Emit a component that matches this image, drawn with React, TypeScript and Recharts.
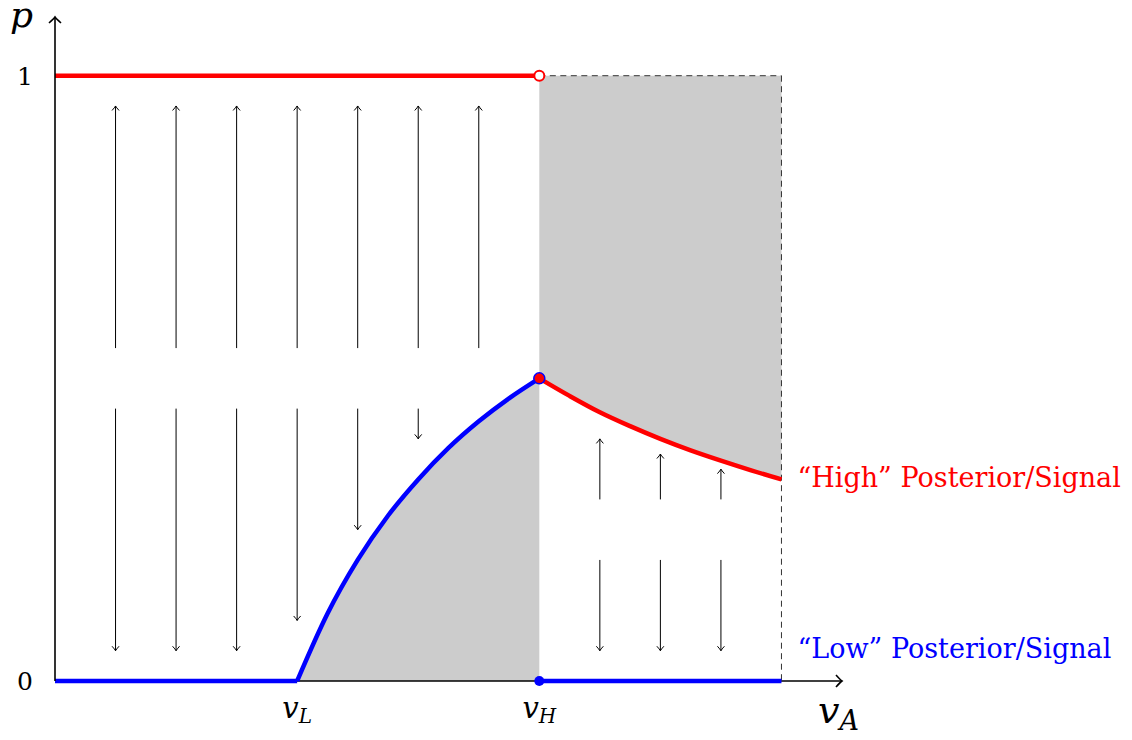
import React from 'react';
import { ComposedChart, XAxis, YAxis, Line, Area, ReferenceLine, ReferenceDot } from 'recharts';

const RED = '#ff0000';
const BLUE = '#0000ff';
const SHADE = '#cccccc';
const SERIF = '"DejaVu Serif", serif';

// x measured in units where v_L = 4, v_H = 8, right edge = 12
const lowCurveX = [4, 4.5, 5, 5.5, 6, 6.5, 7, 7.5, 8];
const lowCurveP = [0, 0.111, 0.2, 0.273, 0.333, 0.385, 0.429, 0.467, 0.5];
const highCurveX = [8, 8.5, 9, 9.5, 10, 10.5, 11, 11.5, 12];
const highCurveP = [0.5, 0.471, 0.444, 0.421, 0.4, 0.381, 0.364, 0.348, 0.333];

// arrows (x position, start p, end p)
const leftUpX = [1, 2, 3, 4, 5, 6, 7];
const leftUpFrom = 0.55;
const leftUpTo = 0.95;
const leftDownX = [1, 2, 3, 4, 5, 6];
const leftDownFrom = 0.45;
const leftDownTo = [0.05, 0.05, 0.05, 0.1, 0.25, 0.4];
const rightX = [9, 10, 11];
const rightUpFrom = 0.3;
const rightUpTo = [0.4, 0.375, 0.35];
const rightDownFrom = 0.2;
const rightDownTo = 0.05;

const xTicks = [4, 8];
const xTickNames = ['L', 'H'];
const yTicks = [0, 1];

const lowCurve = lowCurveX.map((x, i) => ({ x, p: lowCurveP[i] }));
const highBand = highCurveX.map((x, i) => ({ x, p: highCurveP[i], band: [highCurveP[i], 1] }));
const topRed = [{ x: 0, p: 1 }, { x: 8, p: 1 }];
const bottomLeft = [{ x: 0, p: 0 }, { x: 4, p: 0 }];
const bottomRight = [{ x: 8, p: 0 }, { x: 12, p: 0 }];
const xAxisLine = [{ x: 0, p: 0 }, { x: 13, p: 0 }];

const arrowShape = (props: any) => {
  const { x1, y1, x2, y2 } = props;
  const d = y2 > y1 ? 1 : -1;
  const head = `M ${x2 - 3.5} ${y2 - d * 4.5} Q ${x2 - 0.8} ${y2 - d * 1.5} ${x2} ${y2} Q ${x2 + 0.8} ${y2 - d * 1.5} ${x2 + 3.5} ${y2 - d * 4.5}`;
  return (
    <g>
      <line x1={x1} y1={y1} x2={x2} y2={y2} stroke="#000" strokeWidth={1} />
      <path d={head} fill="none" stroke="#000" strokeWidth={1} />
    </g>
  );
};

const XTick = (props: any) => {
  const { x, y, payload } = props;
  const idx = xTicks.indexOf(payload.value);
  return (
    <text x={x} y={y + 37} textAnchor="middle" fill="#000" style={{ fontFamily: SERIF, fontStyle: 'italic', fontSize: 29 }}>
      v<tspan dy={5} style={{ fontSize: 20 }}>{xTickNames[idx]}</tspan>
    </text>
  );
};

const YTick = (props: any) => {
  const { x, y, payload } = props;
  return (
    <text x={x - 22} y={y + 9} textAnchor="end" fill="#000" style={{ fontFamily: SERIF, fontSize: 25 }}>
      {payload.value}
    </text>
  );
};

export default function App() {
  return (
    <div style={{ position: 'absolute', left: 0, top: 0, background: '#fff' }}>
      <ComposedChart width={1132} height={740} margin={{ top: 17, right: 290, bottom: 0, left: 0 }}>
        <XAxis
          type="number"
          dataKey="x"
          domain={[0, 13]}
          ticks={xTicks}
          tick={<XTick />}
          tickLine={false}
          tickSize={0}
          tickMargin={0}
          height={59}
          axisLine={false}
        />
        <YAxis
          type="number"
          domain={[0, 1.097]}
          ticks={yTicks}
          tick={<YTick />}
          tickLine={false}
          tickSize={0}
          tickMargin={0}
          width={55}
          axisLine={{ stroke: '#000', strokeWidth: 1.6 }}
        />

        <Area data={lowCurve} dataKey="p" type="monotone" fill={SHADE} fillOpacity={1} stroke="none" isAnimationActive={false} />
        <Area data={highBand} dataKey="band" type="monotone" fill={SHADE} fillOpacity={1} stroke="none" isAnimationActive={false} />

        <ReferenceLine segment={[{ x: 8, y: 1 }, { x: 12, y: 1 }]} stroke="#333" strokeWidth={1} strokeDasharray="6 4.5" />
        <ReferenceLine segment={[{ x: 12, y: 1 }, { x: 12, y: 0 }]} stroke="#333" strokeWidth={1} strokeDasharray="6 4.5" />

        {leftUpX.map((x) => (
          <ReferenceLine key={`lu${x}`} segment={[{ x, y: leftUpFrom }, { x, y: leftUpTo }]} shape={arrowShape} />
        ))}
        {leftDownX.map((x, i) => (
          <ReferenceLine key={`ld${x}`} segment={[{ x, y: leftDownFrom }, { x, y: leftDownTo[i] }]} shape={arrowShape} />
        ))}
        {rightX.map((x, i) => (
          <ReferenceLine key={`ru${x}`} segment={[{ x, y: rightUpFrom }, { x, y: rightUpTo[i] }]} shape={arrowShape} />
        ))}
        {rightX.map((x) => (
          <ReferenceLine key={`rd${x}`} segment={[{ x, y: rightDownFrom }, { x, y: rightDownTo }]} shape={arrowShape} />
        ))}

        {/* x axis drawn as a series so the blue lines sit on top of it */}
        <Line data={xAxisLine} dataKey="p" type="linear" stroke="#000" strokeWidth={1.6} dot={false} isAnimationActive={false} />
        <Line data={topRed} dataKey="p" type="linear" stroke={RED} strokeWidth={4.5} dot={false} isAnimationActive={false} />
        <Line data={bottomLeft} dataKey="p" type="linear" stroke={BLUE} strokeWidth={4.5} dot={false} isAnimationActive={false} />
        <Line data={bottomRight} dataKey="p" type="linear" stroke={BLUE} strokeWidth={4.5} dot={false} isAnimationActive={false} />
        <Line data={lowCurve} dataKey="p" type="monotone" stroke={BLUE} strokeWidth={4.5} dot={false} isAnimationActive={false} />
        <Line data={highBand} dataKey="p" type="monotone" stroke={RED} strokeWidth={4.5} dot={false} isAnimationActive={false} />

        <ReferenceDot x={8} y={1} r={5} fill="#fff" stroke={RED} strokeWidth={2} />
        <ReferenceDot x={8} y={0} r={5} fill={BLUE} stroke="none" />
        <ReferenceDot x={8} y={0.5} r={5.5} fill={RED} stroke={BLUE} strokeWidth={1.5} />

        {/* axis arrowheads */}
        <ReferenceDot
          x={13}
          y={0}
          shape={(p: any) => (
            <path d={`M ${p.cx - 6} ${p.cy - 6} Q ${p.cx - 1.5} ${p.cy - 1} ${p.cx} ${p.cy} Q ${p.cx - 1.5} ${p.cy + 1} ${p.cx - 6} ${p.cy + 6}`} fill="none" stroke="#000" strokeWidth={1.6} />
          )}
        />
        <ReferenceDot
          x={0}
          y={1.097}
          shape={(p: any) => (
            <path d={`M ${p.cx - 6} ${p.cy + 6} Q ${p.cx - 1} ${p.cy + 1.5} ${p.cx} ${p.cy} Q ${p.cx + 1} ${p.cy + 1.5} ${p.cx + 6} ${p.cy + 6}`} fill="none" stroke="#000" strokeWidth={1.6} />
          )}
        />

        {/* axis titles and curve labels */}
        <ReferenceDot
          x={0}
          y={1.097}
          shape={(p: any) => (
            <text x={p.cx - 45} y={p.cy + 10} fill="#000" style={{ fontFamily: SERIF, fontStyle: 'italic', fontSize: 36 }}>p</text>
          )}
        />
        <ReferenceDot
          x={13}
          y={0}
          shape={(p: any) => (
            <text x={p.cx - 24} y={p.cy + 42} fill="#000" style={{ fontFamily: SERIF, fontStyle: 'italic', fontSize: 38 }}>
              v<tspan dy={7} style={{ fontSize: 27 }}>A</tspan>
            </text>
          )}
        />
        <ReferenceDot
          x={12}
          y={0.333}
          shape={(p: any) => (
            <text x={p.cx + 16} y={p.cy + 8} fill={RED} style={{ fontFamily: SERIF, fontSize: 27 }}>“High” Posterior/Signal</text>
          )}
        />
        <ReferenceDot
          x={12}
          y={0}
          shape={(p: any) => (
            <text x={p.cx + 16} y={p.cy - 23} fill={BLUE} style={{ fontFamily: SERIF, fontSize: 27 }}>“Low” Posterior/Signal</text>
          )}
        />
      </ComposedChart>
    </div>
  );
}
